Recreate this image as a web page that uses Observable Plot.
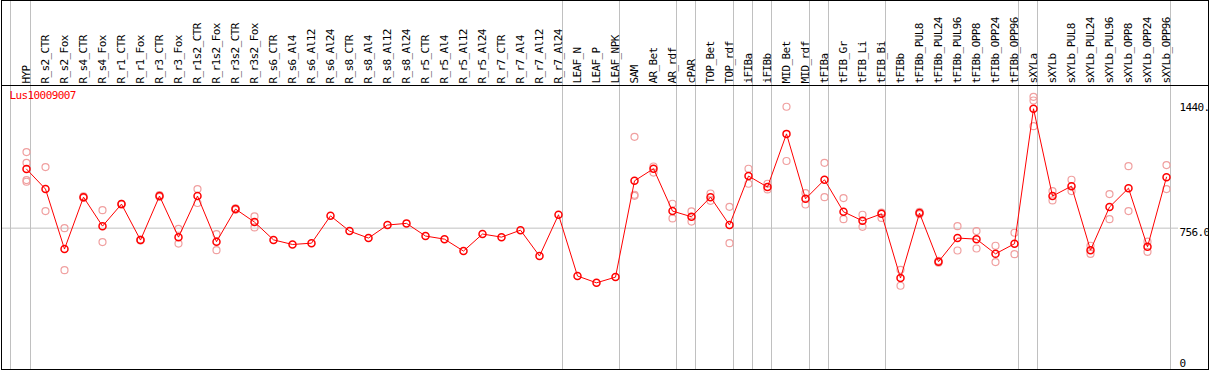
<!DOCTYPE html>
<html><head><meta charset="utf-8">
<script src="https://cdn.jsdelivr.net/npm/d3@7"></script>
<script src="https://cdn.jsdelivr.net/npm/@observablehq/plot@0.6"></script>
<style>html,body{margin:0;padding:0;background:#fff;} svg{display:block;} svg text{letter-spacing:-0.6px;}</style>
</head><body><div id="chart"></div>
<script>
const categories = ["HYP","R_s2_CTR","R_s2_Fox","R_s4_CTR","R_s4_Fox","R_r1_CTR","R_r1_Fox","R_r3_CTR","R_r3_Fox","R_r1s2_CTR","R_r1s2_Fox","R_r3s2_CTR","R_r3s2_Fox","R_s6_CTR","R_s6_Al4","R_s6_Al12","R_s6_Al24","R_s8_CTR","R_s8_Al4","R_s8_Al12","R_s8_Al24","R_r5_CTR","R_r5_Al4","R_r5_Al12","R_r5_Al24","R_r7_CTR","R_r7_Al4","R_r7_Al12","R_r7_Al24","LEAF_N","LEAF_P","LEAF_NPK","SAM","AR_Bet","AR_rdf","cPAR","TOP_Bet","TOP_rdf","iFIBa","iFIBb","MID_Bet","MID_rdf","tFIBa","tFIB_Gr","tFIB_Li","tFIB_Bi","tFIBb","tFIBb_PUL8","tFIBb_PUL24","tFIBb_PUL96","tFIBb_OPP8","tFIBb_OPP24","tFIBb_OPP96","sXYLa","sXYLb","sXYLb_PUL8","sXYLb_PUL24","sXYLb_PUL96","sXYLb_OPP8","sXYLb_OPP24","sXYLb_OPP96"];
const means = [1078,969,642,925,767,887,691,931,707,931,682,860,789,692,667,674,823,740,702,773,782,713,696,631,724,707,745,604,829,495,458,489,1014,1080,849,818,925,773,1040,980,1270,916,1020,845,796,834,484,838,573,702,696,616,671,1407,931,985,636,871,974,654,1034];
const replicates = [[1171,1112,1018,1009],[1089,849],[756,527],[929,921],[854,680],[889,885],[693,689],[936,926],[752,672],[969,893],[723,636],[864,856],[820,760],[],[],[],[],[],[],[],[],[],[],[],[],[],[],[],[],[],[],[],[1254,938,932],[1092,1059],[889,809],[847,792],[945,905],[872,674],[1080,998],[998,967],[1418,1122],[947,885],[1112,925],[920,805],[829,763],[841,812],[529,442],[845,832],[578,568],[767,634],[740,645],[660,571],[731,614],[1472,1452,1312],[958,907],[1020,958],[660,616],[942,805],[1094,849],[682,627],[1100,969]];
const groupEnds = [0,28,31,34,35,37,38,39,41,42,45,52,53,60];
const yTicks = [0, 756, 1440];
const yTickLabels = ["0", "756.0", "1440."];
const geneId = "Lus10009007";

const idx = categories.map((_, i) => i);
const meanData = means.map((v, i) => ({i, v}));
const repData = replicates.flatMap((r, i) => r.map(v => ({i, v})));
const fmtY = v => yTickLabels[yTicks.indexOf(v)];

const chart = Plot.plot({
  width: 1209, height: 370,
  marginLeft: 1, marginRight: 31, marginTop: 85, marginBottom: 1,
  style: {fontFamily: "'DejaVu Sans Mono', monospace", fontSize: "11px", background: "white", color: "black"},
  x: {type: "linear", domain: [0, categories.length - 1], range: [26, 1166]},
  y: {domain: [0, 1440], range: [366.3, 102.2]},
  marks: [
    Plot.ruleX(groupEnds, {x: d => d, dx: 4, y1: -30, y2: 2100, stroke: "#c0c0c0"}),
    Plot.ruleX([-1], {x: d => d, dx: 3, y1: -30, y2: 2100, stroke: "#c0c0c0"}),
    Plot.ruleY([756], {stroke: "#c0c0c0"}),
    Plot.frame({stroke: "black", insetTop: -85, insetRight: -30}),
    Plot.frame({anchor: "top", stroke: "black", insetRight: -30}),
    Plot.axisX({anchor: "top", ticks: idx, tickFormat: i => categories[i], tickRotate: -90, tickSize: 0, tickPadding: 2, label: null}),
    Plot.axisY({anchor: "right", ticks: yTicks.slice(1), tickFormat: fmtY, tickSize: 0, tickPadding: 1, lineAnchor: "top", textAnchor: "start", label: null}),
    Plot.axisY({anchor: "right", ticks: yTicks.slice(0, 1), tickFormat: fmtY, tickSize: 0, tickPadding: 1, lineAnchor: "bottom", textAnchor: "start", label: null}),
    Plot.dot(repData, {x: "i", y: "v", r: 3.5, stroke: "#f0a0a0", strokeWidth: 1.2}),
    Plot.line(meanData, {x: "i", y: "v", stroke: "red", strokeWidth: 1}),
    Plot.dot(meanData, {x: "i", y: "v", r: 3.5, stroke: "red", strokeWidth: 1.5}),
    Plot.text([geneId], {frameAnchor: "top-left", dx: 8, dy: 6, fill: "red", textAnchor: "start", lineAnchor: "top"})
  ]
});
document.getElementById("chart").appendChild(chart);
</script>
</body></html>
